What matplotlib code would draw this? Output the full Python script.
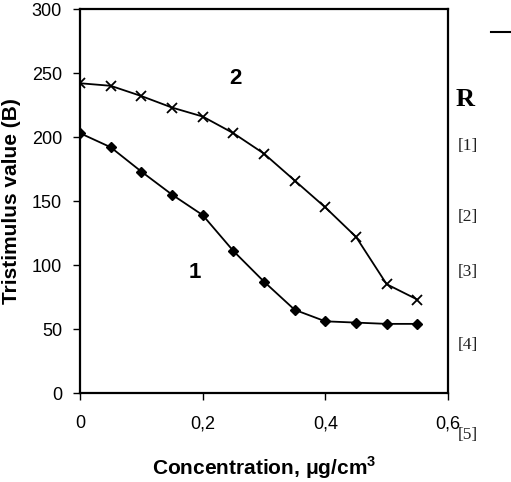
import matplotlib
matplotlib.use("Agg")
import matplotlib.pyplot as plt
from matplotlib.ticker import FuncFormatter

conc = [0, 0.05, 0.1, 0.15, 0.2, 0.25, 0.3, 0.35, 0.4, 0.45, 0.5, 0.55]
curve1 = [203, 192, 173, 155, 139, 111, 87, 65, 56, 55, 54, 54]
curve2 = [242, 240, 232, 223, 216, 203, 187, 166, 145, 122, 85, 73]
xticks = [0, 0.2, 0.4, 0.6]
yticks = [0, 50, 100, 150, 200, 250, 300]
refs = ["[1]", "[2]", "[3]", "[4]", "[5]"]

plt.rcParams['font.family'] = ['Liberation Sans', 'DejaVu Sans']

fig = plt.figure(figsize=(5.11, 4.82), dpi=100)
W, H = 511, 482
ax = fig.add_axes([80 / W, 1 - 393 / H, (448 - 80) / W, (393 - 9) / H])

ax.plot(conc, curve1, color='black', lw=1.3, marker='D', ms=5)
ax.plot(conc, curve2, color='black', lw=1.3, marker='x', ms=7, mew=1.3)

ax.set_xlim(0, 0.6)
ax.set_ylim(0, 300)
ax.set_xticks(xticks)
ax.set_yticks(yticks)
ax.xaxis.set_major_formatter(FuncFormatter(lambda v, p: ('%g' % v).replace('.', ',')))
ax.tick_params(direction='out', length=5, width=1, labelsize=13, pad=8)
ax.tick_params(axis='x', pad=11)
for s in ax.spines.values():
    s.set_linewidth(1.6)

ax.text(0.253, 246, '2', fontsize=16, fontweight='bold', ha='center', va='center')
ax.text(0.188, 94, '1', fontsize=16, fontweight='bold', ha='center', va='center')

ax.set_xlabel('Concentration, $\\mathregular{\\mu}$g/cm$^\\mathregular{3}$', fontsize=15, fontweight='bold', labelpad=16)
ax.set_ylabel('Tristimulus value (B)', fontsize=15, fontweight='bold', labelpad=8)

# page artefacts at the right edge of the scan
fig.text(456 / W, 1 - 100 / H, 'R', family='Liberation Serif', fontsize=19, fontweight='bold', va='center')
for r, y in zip(refs, [146, 217, 272, 345, 435]):
    fig.text(458 / W, 1 - y / H, r, family='Liberation Serif', fontsize=12.5, color='#222222', va='center')
fig.add_artist(plt.Line2D([491 / W, 1.0], [1 - 32 / H, 1 - 32 / H], color='black', lw=1.5))

fig.savefig('out.png', dpi=100)
